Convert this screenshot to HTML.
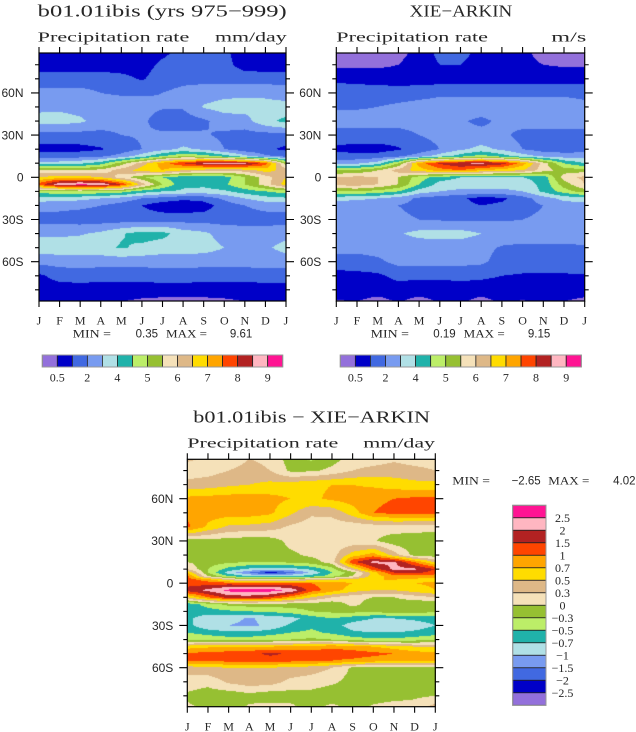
<!DOCTYPE html>
<html><head><meta charset="utf-8">
<style>
html,body{margin:0;padding:0;background:#fff;}
#wrap{position:relative;width:636px;height:732px;overflow:hidden;background:#fff;}
canvas{position:absolute;}
svg{position:absolute;left:0;top:0;}
text{fill:#262626;}
.t{font-family:"Liberation Serif",serif;}
.s{font-family:"Liberation Sans",sans-serif;}
</style></head>
<body><div id="wrap">
<canvas id="c1" width="247" height="248" style="left:39px;top:53px"></canvas>
<canvas id="c2" width="249" height="248" style="left:336px;top:53px"></canvas>
<canvas id="c3" width="249" height="248" style="left:187px;top:459px"></canvas>
<svg width="636" height="732" viewBox="0 0 636 732" xmlns="http://www.w3.org/2000/svg">
<g id="frames" fill="none" stroke="#000" stroke-width="1.2">
<rect x="39" y="53" width="247" height="248"/>
<rect x="336.3" y="53" width="248.4" height="248"/>
<rect x="187.3" y="459.3" width="248" height="247.4"/>
</g>
<path id="tk" fill="none" stroke="#000" stroke-width="1.1" d=""/>
<g id="cb"></g>

<!-- top-left texts -->
<text class="t" x="37.7" y="16.7" font-size="17" textLength="249" lengthAdjust="spacingAndGlyphs">b01.01ibis (yrs 975−999)</text>
<text class="t" x="37.7" y="41.7" font-size="14" textLength="151.6" lengthAdjust="spacingAndGlyphs">Precipitation rate</text>
<text class="t" x="215" y="41.7" font-size="14" textLength="71.7" lengthAdjust="spacingAndGlyphs">mm/day</text>
<!-- top-right texts -->
<text class="t" x="409.7" y="16.7" font-size="17" textLength="102.6" lengthAdjust="spacingAndGlyphs">XIE−ARKIN</text>
<text class="t" x="336.3" y="41.7" font-size="14" textLength="151.7" lengthAdjust="spacingAndGlyphs">Precipitation rate</text>
<text class="t" x="551.3" y="41.7" font-size="14" textLength="35" lengthAdjust="spacingAndGlyphs">m/s</text>
<!-- bottom texts -->
<text class="t" x="193.3" y="422.7" font-size="17" textLength="236.7" lengthAdjust="spacingAndGlyphs">b01.01ibis − XIE−ARKIN</text>
<text class="t" x="187.3" y="447.3" font-size="14" textLength="151" lengthAdjust="spacingAndGlyphs">Precipitation rate</text>
<text class="t" x="363.3" y="447.3" font-size="14" textLength="71.7" lengthAdjust="spacingAndGlyphs">mm/day</text>

<!-- lat labels -->
<g class="s" font-size="12" text-anchor="end">
<text x="23.5" y="97.2">60N</text><text x="23.5" y="139.4">30N</text><text x="23.5" y="181.6">0</text><text x="23.5" y="223.8">30S</text><text x="23.5" y="266">60S</text>
<text x="321.3" y="97.2">60N</text><text x="321.3" y="139.4">30N</text><text x="321.3" y="181.6">0</text><text x="321.3" y="223.8">30S</text><text x="321.3" y="266">60S</text>
<text x="173.3" y="503">60N</text><text x="173.3" y="545.2">30N</text><text x="173.3" y="587.5">0</text><text x="173.3" y="629.8">30S</text><text x="173.3" y="672">60S</text>
</g>

<!-- month labels -->
<g class="t" font-size="12" text-anchor="middle">
<text x="39" y="324.3">J</text><text x="59.6" y="324.3">F</text><text x="80.2" y="324.3">M</text><text x="100.8" y="324.3">A</text><text x="121.3" y="324.3">M</text><text x="141.9" y="324.3">J</text><text x="162.5" y="324.3">J</text><text x="183.1" y="324.3">A</text><text x="203.7" y="324.3">S</text><text x="224.3" y="324.3">O</text><text x="244.8" y="324.3">N</text><text x="265.4" y="324.3">D</text><text x="286" y="324.3">J</text>
<text x="336.3" y="324.3">J</text><text x="357" y="324.3">F</text><text x="377.7" y="324.3">M</text><text x="398.4" y="324.3">A</text><text x="419.1" y="324.3">M</text><text x="439.8" y="324.3">J</text><text x="460.5" y="324.3">J</text><text x="481.2" y="324.3">A</text><text x="501.9" y="324.3">S</text><text x="522.6" y="324.3">O</text><text x="543.3" y="324.3">N</text><text x="564" y="324.3">D</text><text x="584.7" y="324.3">J</text>
<text x="187.3" y="730.5">J</text><text x="208" y="730.5">F</text><text x="228.6" y="730.5">M</text><text x="249.3" y="730.5">A</text><text x="270" y="730.5">M</text><text x="290.6" y="730.5">J</text><text x="311.3" y="730.5">J</text><text x="332" y="730.5">A</text><text x="352.6" y="730.5">S</text><text x="373.3" y="730.5">O</text><text x="394" y="730.5">N</text><text x="414.6" y="730.5">D</text><text x="435.3" y="730.5">J</text>
</g>

<!-- MIN / MAX -->
<g font-size="11.5">
<text class="t" x="72.7" y="337.3" textLength="38.3" lengthAdjust="spacingAndGlyphs">MIN =</text>
<text class="s" x="158" y="337.3" text-anchor="end">0.35</text>
<text class="t" x="166" y="337.3" textLength="41" lengthAdjust="spacingAndGlyphs">MAX =</text>
<text class="s" x="252.3" y="337.3" text-anchor="end">9.61</text>

<text class="t" x="370.7" y="337.3" textLength="38.3" lengthAdjust="spacingAndGlyphs">MIN =</text>
<text class="s" x="455.7" y="337.3" text-anchor="end">0.19</text>
<text class="t" x="463.7" y="337.3" textLength="41" lengthAdjust="spacingAndGlyphs">MAX =</text>
<text class="s" x="550.3" y="337.3" text-anchor="end">9.15</text>

<text class="t" x="452.3" y="484.7" textLength="37.7" lengthAdjust="spacingAndGlyphs">MIN =</text>
<text class="s" x="540.7" y="484.7" text-anchor="end">−2.65</text>
<text class="t" x="548.3" y="484.7" textLength="41" lengthAdjust="spacingAndGlyphs">MAX =</text>
<text class="s" x="635.5" y="484.7" text-anchor="end">4.02</text>
</g>

<!-- top colorbar labels -->
<g class="t" font-size="12" text-anchor="middle">
<text x="57.3" y="381.6">0.5</text><text x="87.3" y="381.6">2</text><text x="117.4" y="381.6">4</text><text x="147.5" y="381.6">5</text><text x="177.5" y="381.6">6</text><text x="207.6" y="381.6">7</text><text x="237.6" y="381.6">8</text><text x="267.7" y="381.6">9</text>
<text x="355.4" y="381.6">0.5</text><text x="385.5" y="381.6">2</text><text x="415.6" y="381.6">4</text><text x="445.7" y="381.6">5</text><text x="475.8" y="381.6">6</text><text x="505.9" y="381.6">7</text><text x="536" y="381.6">8</text><text x="566.2" y="381.6">9</text>
</g>
<!-- bottom colorbar labels -->
<g class="t" font-size="12" text-anchor="middle">
<text x="562.5" y="522">2.5</text>
<text x="562.5" y="534.5">2</text>
<text x="562.5" y="547">1.5</text>
<text x="562.5" y="559.5">1</text>
<text x="562.5" y="572">0.7</text>
<text x="562.5" y="584.5">0.5</text>
<text x="562.5" y="597">0.3</text>
<text x="562.5" y="609.5">0</text>
<text x="562.5" y="622">−0.3</text>
<text x="562.5" y="634.5">−0.5</text>
<text x="562.5" y="647">−0.7</text>
<text x="562.5" y="659.5">−1</text>
<text x="562.5" y="672">−1.5</text>
<text x="562.5" y="684.5">−2</text>
<text x="562.5" y="697">−2.5</text>
</g>
</svg>
</div>
<script>
const PAL=[[147,112,219],[0,0,200],[65,105,225],[120,155,240],[176,224,230],[32,178,170],[188,238,104],[150,192,50],[245,225,185],[222,184,135],[255,220,0],[255,165,0],[255,69,0],[178,34,34],[255,182,193],[255,20,147]];
const HEX=PAL.map(c=>'rgb('+c[0]+','+c[1]+','+c[2]+')');
function draw(id,X0,X1,Y0lat,scale,lats,g){
 const c=document.getElementById(id);const ctx=c.getContext('2d');
 const L=parseFloat(c.style.left),T=parseFloat(c.style.top);const W=c.width,H=c.height;
 const img=ctx.createImageData(W,H);const n=lats.length;
 for(let j=0;j<H;j++){
  const py=T+j+0.5;let lat=(Y0lat-py)/scale;
  if(lat>lats[0])lat=lats[0];if(lat<lats[n-1])lat=lats[n-1];
  let k=0;while(k<n-2&&lat<lats[k+1])k++;
  const t=(lats[k]-lat)/(lats[k]-lats[k+1]);
  for(let i=0;i<W;i++){
   const px=L+i+0.5;let m=(px-X0)/(X1-X0)*12;if(m<0)m=0;if(m>12)m=12;
   let m0=Math.floor(m);if(m0>11)m0=11;const f=m-m0;
   const a=g[k][m0]*(1-f)+g[k][m0+1]*f,b=g[k+1][m0]*(1-f)+g[k+1][m0+1]*f;
   const v=a*(1-t)+b*t;let ci=Math.floor(v);if(ci<0)ci=0;if(ci>15)ci=15;
   const col=PAL[ci];const o=(j*W+i)*4;
   img.data[o]=col[0];img.data[o+1]=col[1];img.data[o+2]=col[2];img.data[o+3]=255;
  }
 }
 ctx.putImageData(img,0,0);
}
const latsA=[88.5,80,70,60,50,40,30,20,15,10,5,0,-5,-10,-15,-20,-30,-40,-50,-60,-70,-80,-88.5];
const g1=[
[1.5,1.5,1.5,1.5,1.5,1.5,1.8,2.3,2.3,2.2,1.5,1.4,1.5],
[1.4,1.4,1.4,1.5,1.5,1.6,2.2,2.5,2.5,2.3,1.6,1.5,1.4],
[2.5,2.5,2.5,2.5,2.3,1.9,2.5,2.7,2.7,2.6,2.5,2.5,2.5],
[3.3,3.3,3.3,3.0,2.9,2.9,3.0,3.3,3.5,3.7,3.8,3.8,3.6],
[3.8,3.8,3.6,3.4,3.4,3.3,3.1,3.1,4.1,4.4,4.4,4.3,4.3],
[4.3,4.4,4.2,3.5,3.4,3.2,2.5,2.5,2.8,3.5,3.6,4.7,5.3],
[2.6,2.6,2.6,2.7,3.0,3.1,3.2,3.2,3.1,2.8,2.6,2.6,2.6],
[1.6,1.6,1.7,1.9,2.4,3.0,3.6,4.2,3.8,3.0,2.4,2.2,1.8],
[2.5,2.5,2.6,2.8,3.4,4.5,6.0,7.0,6.5,5.5,4.3,3.2,2.7],
[4.3,4.5,4.8,5.5,7.5,9.5,11.5,13.0,14.2,14.5,14.3,12.5,7.5],
[8.3,8.2,8.0,8.4,9.5,10.5,11.0,10.0,9.5,9.3,9.5,10.5,9.5],
[10.0,10.5,10.5,10.0,8.5,7.2,6.0,5.3,5.0,5.5,7.0,8.5,10.0],
[12.5,14.8,15.3,15.0,13.0,9.5,7.0,5.3,5.3,5.8,7.0,8.5,10.5],
[6.5,6.8,7.0,6.8,6.5,5.5,5.0,4.8,4.6,4.8,5.5,6.0,6.5],
[4.5,4.5,4.3,4.0,3.6,3.0,2.6,2.2,2.4,3.2,4.0,4.6,4.8],
[3.4,3.3,3.2,3.0,2.6,2.0,1.4,1.3,1.5,2.5,3.0,3.3,3.4],
[2.6,2.6,2.5,2.5,2.5,2.5,2.6,2.6,2.6,2.6,2.6,2.6,2.6],
[3.8,3.8,3.9,4.2,4.9,5.4,5.3,4.5,4.2,3.6,3.5,3.5,3.6],
[4.6,4.6,4.6,4.7,5.1,4.8,4.5,4.5,4.4,4.0,3.5,3.8,4.4],
[3.3,3.4,3.4,3.4,3.4,3.4,3.4,3.4,3.4,3.4,3.4,3.4,3.4],
[1.8,2.4,2.5,2.4,2.4,2.4,2.5,2.5,2.4,2.4,2.4,2.5,2.5],
[1.5,1.5,1.5,1.5,1.5,1.5,1.5,1.5,1.5,1.5,1.5,1.5,1.5],
[1.3,1.3,1.3,1.2,1.0,0.8,0.7,0.7,0.7,0.8,1.0,1.2,1.3]];
const g2=[
[0.5,0.5,0.5,0.7,1.3,2.3,2.4,1.6,1.4,1.3,0.6,0.5,0.5],
[0.8,0.8,0.8,1.0,1.5,2.0,2.0,1.5,1.4,1.3,1.0,0.9,0.9],
[1.8,1.7,1.6,1.5,1.5,1.5,1.5,1.5,1.5,1.5,1.5,1.5,1.6],
[2.5,2.5,2.5,2.5,2.6,2.8,2.8,2.8,2.8,2.8,2.8,2.8,2.7],
[2.9,2.9,3.0,3.2,3.4,3.5,3.5,3.5,3.5,3.5,3.5,3.5,3.3],
[3.4,3.4,3.4,3.4,3.4,3.4,3.1,2.8,3.2,3.4,3.6,3.6,3.5],
[2.6,2.6,2.6,2.6,3.0,3.3,3.3,3.3,3.2,2.7,2.6,2.6,2.6],
[1.8,1.6,1.6,1.9,2.4,3.0,3.8,4.3,3.8,3.0,2.5,2.5,2.6],
[2.4,2.3,2.4,2.8,3.5,4.5,5.5,6.5,5.5,4.5,3.8,3.5,3.5],
[3.6,3.8,4.5,7.0,11.5,13.2,14.0,14.2,13.5,11.5,8.5,6.0,5.0],
[7.0,7.2,8.0,9.5,10.5,11.5,12.0,11.0,10.5,10.0,8.5,7.5,7.5],
[9.0,9.3,9.0,8.0,6.5,5.5,5.0,4.8,4.8,5.0,5.3,8.5,9.3],
[9.3,9.5,9.0,8.0,6.0,4.6,4.4,4.3,4.3,4.5,5.3,7.5,9.0],
[7.0,7.0,6.6,6.0,4.5,4.0,3.8,3.8,3.8,4.0,5.2,6.5,7.5],
[4.3,4.2,4.0,3.5,2.8,2.5,2.2,1.6,1.8,2.6,3.5,4.3,4.5],
[3.5,3.4,3.3,3.0,2.7,2.5,2.3,2.0,2.2,2.6,3.0,3.5,3.6],
[3.3,3.3,3.3,3.2,3.0,2.9,2.8,2.9,2.9,3.0,3.2,3.4,3.4],
[3.5,3.5,3.6,3.9,4.3,4.4,4.4,4.0,3.6,3.5,3.5,3.5,3.5],
[3.3,3.3,3.4,3.4,3.4,3.4,3.4,3.3,2.9,2.8,2.8,2.8,2.9],
[2.6,2.6,2.8,3.3,3.3,3.3,3.3,3.2,2.6,2.5,2.5,2.5,2.6],
[1.6,1.7,1.8,2.3,2.2,2.2,2.3,2.2,2.0,1.9,1.9,1.9,1.9],
[1.5,1.5,1.5,1.5,1.5,1.5,1.5,1.5,1.5,1.5,1.5,1.5,1.5],
[0.9,1.0,0.6,1.1,0.6,1.1,1.2,0.6,1.2,0.9,1.2,1.0,0.7]];
const latsB=[88.5,80,70,60,50,40,30,20,15,10,7.5,5,2.5,0,-5,-10,-15,-20,-25,-30,-35,-40,-45,-50,-55,-60,-70,-80,-88.5];
const g3=[
[9.2,8.8,8.5,9.0,8.8,7.5,6.8,7.5,8.5,8.5,8.8,8.5,8.5],
[8.5,8.6,9.0,9.3,9.0,7.8,7.8,8.3,9.0,9.3,9.5,9.3,9.0],
[9.3,9.5,9.8,10.0,10.3,10.5,10.8,11.0,11.0,10.8,10.5,10.3,10.3],
[11.3,11.4,11.5,11.5,11.3,11.0,10.8,11.2,11.5,11.8,12.0,12.2,12.2],
[11.8,11.5,11.5,11.5,11.2,10.2,9.2,9.3,10.5,12.0,12.3,12.4,12.3],
[12.2,10.8,9.8,9.7,9.5,8.8,8.4,8.4,8.3,8.4,8.6,8.5,8.4],
[7.5,7.6,7.5,7.4,7.5,8.3,8.4,8.4,8.3,8.1,7.4,7.3,7.3],
[7.3,7.5,7.4,7.3,7.5,7.8,8.2,8.5,10.5,11.5,9.5,7.6,7.4],
[8.0,7.5,7.2,7.0,7.0,7.2,7.5,8.5,12.8,14.3,14.2,12.0,9.8],
[9.0,7.0,5.6,4.8,4.5,4.6,5.2,6.5,9.5,12.5,14.3,14.2,13.0],
[11.0,7.0,4.5,3.0,1.5,2.6,4.2,6.0,7.5,10.5,13.0,13.3,12.5],
[12.2,8.0,6.0,5.0,4.8,5.0,5.5,6.5,8.0,10.5,11.5,11.5,11.5],
[12.5,11.5,9.5,8.5,8.5,9.0,9.5,10.0,10.5,11.0,11.0,10.8,10.5],
[12.5,12.5,12.5,12.3,12.3,12.2,12.0,11.5,11.0,10.5,10.5,11.0,11.2],
[13.5,14.3,15.3,15.6,15.5,14.8,12.5,11.5,10.5,10.0,10.0,10.5,11.0],
[10.0,12.0,13.5,13.5,13.0,11.5,10.0,9.0,8.3,8.0,8.0,8.5,9.0],
[5.3,6.5,7.3,7.5,7.5,7.5,7.5,7.3,8.3,7.5,7.5,7.3,7.0],
[5.3,5.5,5.8,6.0,6.2,6.5,7.0,7.2,7.3,7.3,7.5,7.5,7.2],
[5.2,4.5,4.3,3.9,4.3,4.6,5.5,6.0,5.5,5.0,5.0,5.2,5.4],
[5.3,4.3,4.0,3.8,4.2,5.2,5.8,5.5,4.5,4.2,4.2,4.5,5.0],
[6.0,5.5,5.2,5.2,5.5,6.0,6.2,5.8,5.2,5.0,5.0,5.2,5.5],
[7.0,6.8,6.5,6.5,6.8,7.0,7.2,7.0,6.5,6.2,6.2,6.5,6.8],
[10.5,10.8,11.0,11.0,11.0,11.2,11.5,11.8,11.5,11.0,10.5,10.0,9.8],
[12.2,12.3,12.5,12.6,13.3,12.8,12.5,12.5,12.5,12.3,12.0,11.5,11.3],
[12.0,12.2,12.3,12.3,12.3,12.3,12.2,12.0,11.8,11.5,11.2,11.0,11.0],
[9.5,9.8,10.0,10.0,10.0,9.8,9.5,9.0,7.8,7.5,7.5,7.6,7.8],
[8.5,8.3,9.2,9.6,9.5,8.7,8.5,8.2,7.6,7.5,7.5,7.5,7.6],
[7.8,7.5,7.3,7.6,7.3,7.5,7.6,7.3,7.5,7.5,7.6,7.8,8.0],
[8.2,7.8,7.5,8.2,8.5,8.3,7.5,8.4,7.5,8.2,8.5,8.5,9.5]];
draw('c1',39,286,177.3,1.4067,latsA,g1);
draw('c2',336.3,584.7,177.3,1.4067,latsA,g2);
draw('c3',187.3,435.3,583.2,1.4083,latsB,g3);

function ticks(X0,X1,Yt,Yb,Y0lat,sc){
 let d='';
 for(let m=0;m<=12;m++){const x=(X0+(X1-X0)*m/12).toFixed(2);d+='M'+x+' '+Yt+'v-6M'+x+' '+Yb+'v6';}
 for(let lat=-80;lat<=80;lat+=10){const y=(Y0lat-sc*lat).toFixed(2);const L=(lat%30===0)?8:4;d+='M'+X0+' '+y+'h-'+L+'M'+X1+' '+y+'h'+L;}
 return d;
}
document.getElementById('tk').setAttribute('d',
 ticks(39,286,53,301,177.3,1.4067)+ticks(336.3,584.7,53,301,177.3,1.4067)+ticks(187.3,435.3,459.3,706.7,583.2,1.4083));

const NS='http://www.w3.org/2000/svg';const cb=document.getElementById('cb');
function rect(x,y,w,h,fill,stroke,sw){const r=document.createElementNS(NS,'rect');r.setAttribute('x',x);r.setAttribute('y',y);r.setAttribute('width',w);r.setAttribute('height',h);r.setAttribute('fill',fill);r.setAttribute('stroke',stroke);r.setAttribute('stroke-width',sw);cb.appendChild(r);}
function hbar(x0,x1,y,h){const w=(x1-x0)/16;for(let i=0;i<16;i++)rect(x0+i*w,y,w,h,HEX[i],'#222',0.8);rect(x0,y,x1-x0,h,'none','#999',1);}
hbar(42.3,282.7,355,12);
hbar(340.3,581.3,355,12);
(function(){const x=512.7,w=33.3,y0=505.3,h=12.5;for(let i=0;i<16;i++)rect(x,y0+i*h,w,h,HEX[15-i],'#222',0.8);rect(x,y0,w,h*16,'none','#999',1);})();
</script>
</body></html>
